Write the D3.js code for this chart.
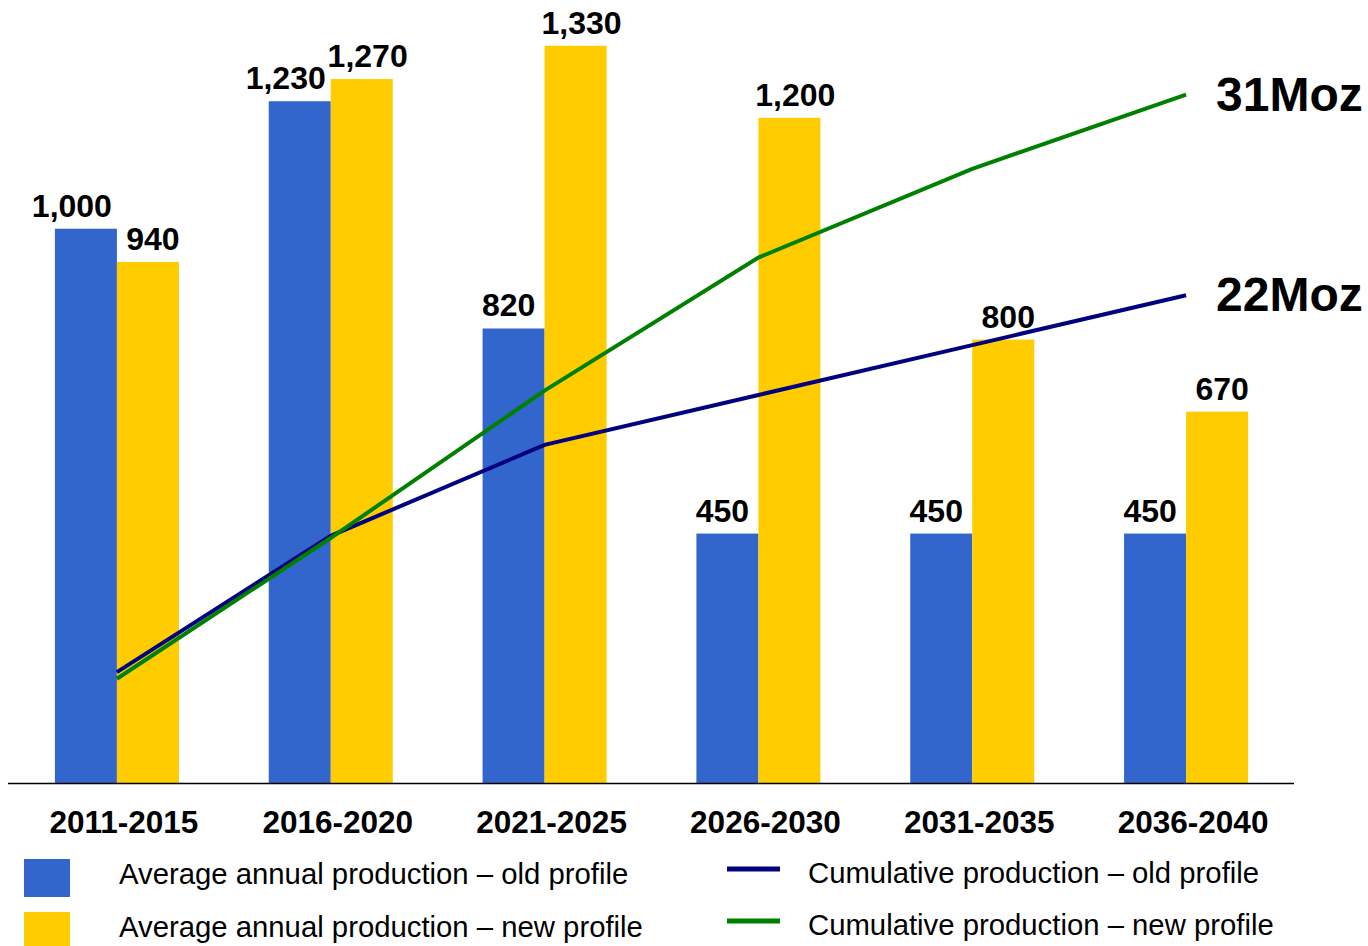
<!DOCTYPE html>
<html>
<head>
<meta charset="utf-8">
<script src="https://cdn.jsdelivr.net/npm/d3@7"></script>
<style>
  html, body { margin: 0; padding: 0; background: #fff; }
  svg { display: block; font-family: "Liberation Sans", Arial, sans-serif; }
</style>
</head>
<body>
<svg id="chart" width="1368" height="946"></svg>
<script>
// Five-year periods
const periods = ["2011-2015", "2016-2020", "2021-2025", "2026-2030", "2031-2035", "2036-2040"];
// Average annual production (koz)
const oldAnnual = [1000, 1230, 820, 450, 450, 450];
const newAnnual = [940, 1270, 1330, 1200, 800, 670];
// Cumulative production (Moz) at the end of each period
const oldCumulative = [5.0, 11.15, 15.25, 17.5, 19.75, 22.0];
const newCumulative = [4.7, 11.05, 17.7, 23.7, 27.7, 31.05];
const endLabels = ["22Moz", "31Moz"];
const legendLabels = [
  "Average annual production \u2013 old profile",
  "Average annual production \u2013 new profile",
  "Cumulative production \u2013 old profile",
  "Cumulative production \u2013 new profile"
];

const colors = { oldBar: "#3366CC", newBar: "#FFCC00", oldLine: "#000080", newLine: "#008000" };

const svg = d3.select("#chart");

const x = d3.scaleBand().domain(periods).range([10, 1293]).paddingInner(0.42).paddingOuter(0.21);
const sub = d3.scaleBand().domain(["old", "new"]).range([0, x.bandwidth()]);
const y = d3.scaleLinear().domain([0, 1400]).range([783, 7]);
const yCum = d3.scaleLinear().domain([0, 35]).range([783, 7]);

const fmt = d3.format(",");

// Bars
const series = [
  { key: "old", values: oldAnnual, color: colors.oldBar, shift: -5 },
  { key: "new", values: newAnnual, color: colors.newBar, shift: 5 }
];
series.forEach(s => {
  const g = svg.append("g");
  g.selectAll("rect").data(s.values).join("rect")
    .attr("x", (d, i) => x(periods[i]) + sub(s.key))
    .attr("y", d => y(d))
    .attr("width", sub.bandwidth())
    .attr("height", d => y(0) - y(d))
    .attr("fill", s.color);
});

// Value labels above each bar
series.forEach(s => {
  const g = svg.append("g");
  g.selectAll("text").data(s.values).join("text")
    .attr("x", (d, i) => x(periods[i]) + sub(s.key) + sub.bandwidth() / 2)
    .attr("y", d => y(d) - 12)
    .attr("text-anchor", "middle")
    .attr("font-size", 32)
    .attr("font-weight", "bold")
    .attr("fill", "#000")
    .text(d => fmt(d))
    .each(function () {
      const w = this.getComputedTextLength();
      const extra = Math.max(0, (w - sub.bandwidth()) / 2);
      const dx = s.shift + Math.sign(s.shift) * (s.key === "old" ? extra : extra * 0.1);
      d3.select(this).attr("dx", dx);
    });
});

// Category axis
const axis = svg.append("g")
  .attr("transform", "translate(0,783)")
  .call(d3.axisBottom(x).tickSize(0).tickPadding(0));
axis.select(".domain").attr("stroke", "#000").attr("stroke-width", 1.3)
  .attr("d", "M8,0.5H1294");
axis.selectAll(".tick text")
  .attr("y", 50).attr("dy", 0).attr("dx", 7)
  .attr("font-size", 31.5).attr("font-weight", "bold")
  .attr("font-family", "'Liberation Sans', Arial, sans-serif")
  .attr("fill", "#000");

// Cumulative lines
const line = d3.line()
  .x((d, i) => x(periods[i]) + x.bandwidth() / 2)
  .y(d => yCum(d));
const lines = [
  { values: oldCumulative, color: colors.oldLine, label: endLabels[0] },
  { values: newCumulative, color: colors.newLine, label: endLabels[1] }
];
lines.forEach(l => {
  svg.append("path").datum(l.values)
    .attr("d", line)
    .attr("fill", "none")
    .attr("stroke", l.color)
    .attr("stroke-width", 4);
  const last = l.values[l.values.length - 1];
  svg.append("text")
    .attr("x", x(periods[periods.length - 1]) + x.bandwidth() / 2 + 30)
    .attr("y", yCum(last) + 16)
    .attr("font-size", 48)
    .attr("font-weight", "bold")
    .attr("fill", "#000")
    .text(l.label);
});

// Legend
const legend = svg.append("g").attr("font-size", 29.3).attr("fill", "#000");
[colors.oldBar, colors.newBar].forEach((c, i) => {
  legend.append("rect").attr("x", 24).attr("y", 859 + i * 53).attr("width", 46).attr("height", 38).attr("fill", c);
  legend.append("text").attr("x", 119).attr("y", 884 + i * 53).text(legendLabels[i]);
});
[colors.oldLine, colors.newLine].forEach((c, i) => {
  legend.append("line").attr("x1", 727).attr("x2", 780)
    .attr("y1", 869 + i * 52).attr("y2", 869 + i * 52)
    .attr("stroke", c).attr("stroke-width", 5);
  legend.append("text").attr("x", 808).attr("y", 883 + i * 52).text(legendLabels[i + 2]);
});
</script>
</body>
</html>
